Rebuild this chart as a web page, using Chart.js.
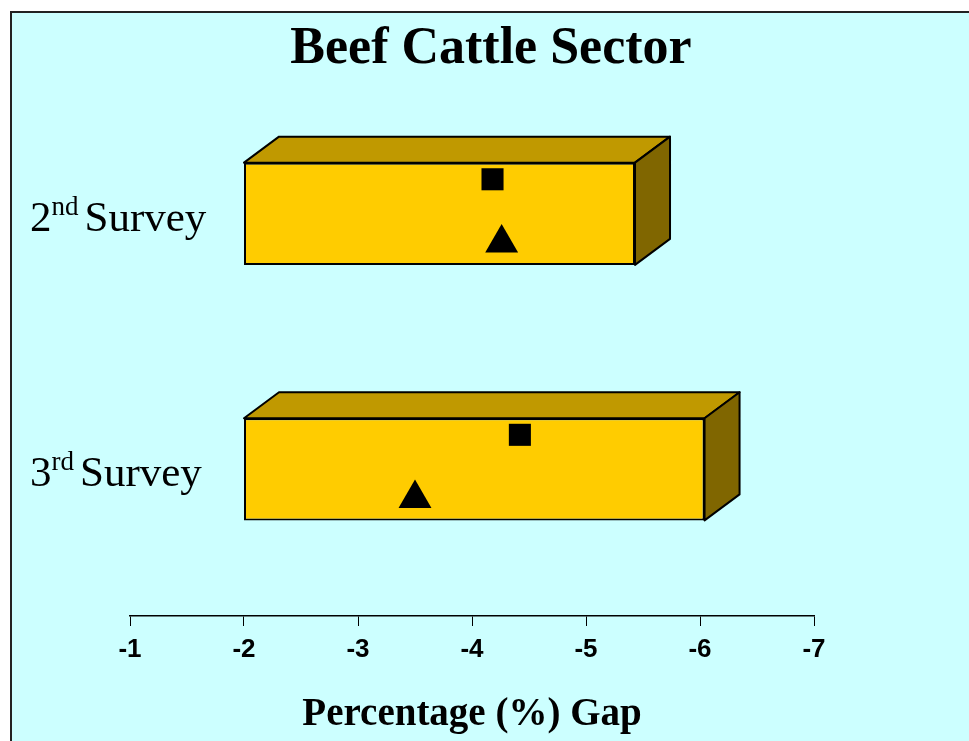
<!DOCTYPE html>
<html>
<head>
<meta charset="utf-8">
<script src="https://cdn.jsdelivr.net/npm/chart.js@4"></script>
<style>
  html, body { margin: 0; padding: 0; background: #fff; overflow: hidden; }
  #frame { position: absolute; left: 10px; top: 11px; width: 1000px; height: 800px;
           background: #ccffff; border-left: 2px solid #222; border-top: 2px solid #222; }
  #wrap { position: absolute; left: 0; top: 0; width: 969px; height: 741px; }
</style>
</head>
<body>
<div id="frame"></div>
<div id="wrap"><canvas id="chart" width="969" height="741"></canvas></div>
<script>
'use strict'

const surveys = ['2nd Survey', '3rd Survey']
const barStart = [-2, -2]
const barEnd = [-5.43, -6.04]
const squareValues = [-4.18, -4.42]
const triangleValues = [-4.26, -3.5]
const xTicks = [-1, -2, -3, -4, -5, -6, -7]

// top and side faces of the boxes
const box3d = {
  id: 'box3d',
  afterDatasetDraw(chart, args) {
    if (chart.data.datasets[args.index].type !== 'bar') return
    const ctx = chart.ctx
    const dx = 35, dy = -26
    const face = (pts, fill) => {
      ctx.beginPath()
      ctx.moveTo(pts[0][0], pts[0][1])
      for (let i = 1; i < pts.length; i++) ctx.lineTo(pts[i][0], pts[i][1])
      ctx.closePath()
      ctx.fillStyle = fill
      ctx.fill()
      ctx.stroke()
    }
    args.meta.data.forEach(bar => {
      const p = bar.getProps(['x', 'y', 'base', 'height'], true)
      const l = Math.min(p.x, p.base), r = Math.max(p.x, p.base)
      const t = p.y - p.height / 2, b = p.y + p.height / 2
      ctx.save()
      ctx.lineWidth = 2
      ctx.strokeStyle = '#000'
      ctx.lineJoin = 'round'
      face([[l, t], [l + dx, t + dy], [r + dx, t + dy], [r, t]], '#c09900')
      face([[r, t], [r + dx, t + dy], [r + dx, b + dy], [r, b]], '#806600')
      ctx.restore()
    })
  }
}

// row labels with superscript ordinal
const rowLabels = {
  id: 'rowLabels',
  afterDraw(chart) {
    const ctx = chart.ctx, ys = chart.scales.y
    chart.data.labels.forEach((label, i) => {
      const m = label.match(/^(\d+)(st|nd|rd|th) (.*)$/)
      const base = ys.getPixelForValue(i) + 17
      let x = 30
      ctx.save()
      ctx.fillStyle = '#000'
      ctx.textBaseline = 'alphabetic'
      ctx.textAlign = 'left'
      ctx.font = '43px "Liberation Serif"'
      ctx.fillText(m[1], x, base)
      x += ctx.measureText(m[1]).width
      ctx.font = '27px "Liberation Serif"'
      ctx.fillText(m[2], x, base - 16)
      x += ctx.measureText(m[2]).width + 6
      ctx.font = '43px "Liberation Serif"'
      ctx.fillText(m[3], x, base)
      ctx.restore()
    })
  }
}

const data = {
  labels: surveys,
  datasets: [{
    type: 'bar',
    indexAxis: 'y',
    data: surveys.map((s, i) => ({ x: [barStart[i], barEnd[i]], y: i })),
    backgroundColor: '#ffcc00',
    borderColor: '#000',
    borderWidth: 2,
    borderSkipped: false,
    categoryPercentage: 0.8,
    barPercentage: 0.5,
    order: 1
  }, {
    type: 'line',
    data: surveys.map((s, i) => ({ x: squareValues[i], y: i - 0.135 })),
    showLine: false,
    pointStyle: 'rect',
    pointRadius: 15.6,
    pointBackgroundColor: '#000',
    pointBorderWidth: 0,
    order: 0
  }, {
    type: 'line',
    data: surveys.map((s, i) => ({ x: triangleValues[i], y: i + 0.114 })),
    showLine: false,
    pointStyle: 'triangle',
    pointRadius: 19,
    pointBackgroundColor: '#000',
    pointBorderWidth: 0,
    order: 0
  }]
}

const config = {
  type: 'bar',
  data: data,
  plugins: [box3d, rowLabels],
  options: {
    responsive: false,
    animation: false,
    events: [],
    layout: { padding: { left: 130, right: 117, top: 0, bottom: 0 } },
    plugins: {
      legend: { display: false },
      tooltip: { enabled: false },
      title: {
        display: true,
        text: 'Beef Cattle Sector',
        color: '#000',
        font: { family: 'Liberation Serif', size: 52, weight: 'bold' },
        padding: { top: 18, bottom: 5.6 }
      }
    },
    scales: {
      x: {
        type: 'linear',
        position: 'bottom',
        offset: false,
        min: -7,
        max: -1,
        reverse: true,
        afterBuildTicks: s => { s.ticks = xTicks.map(v => ({ value: v })) },
        ticks: {
          color: '#000',
          padding: 8,
          font: { family: 'Liberation Sans', size: 26, weight: 'bold' }
        },
        grid: { offset: false, drawOnChartArea: false, drawTicks: true, tickLength: 10, color: '#000', lineWidth: 1 },
        border: { display: true, color: '#000', width: 1.5 },
        title: {
          display: true,
          text: 'Percentage (%) Gap',
          color: '#000',
          font: { family: 'Liberation Serif', size: 39, weight: 'bold' },
          padding: { top: 18, bottom: 3 }
        }
      },
      y: {
        type: 'linear',
        position: 'right',
        offset: false,
        min: -0.5,
        max: 1.574,
        reverse: true,
        afterBuildTicks: s => { s.ticks = surveys.map((c, i) => ({ value: i })) },
        ticks: { display: false },
        grid: { display: false, offset: false },
        border: { display: false },
        afterFit: s => { s.width = 38 }
      }
    }
  }
}

let grafico = new Chart(document.querySelector('#chart'), config)
</script>
</body>
</html>
